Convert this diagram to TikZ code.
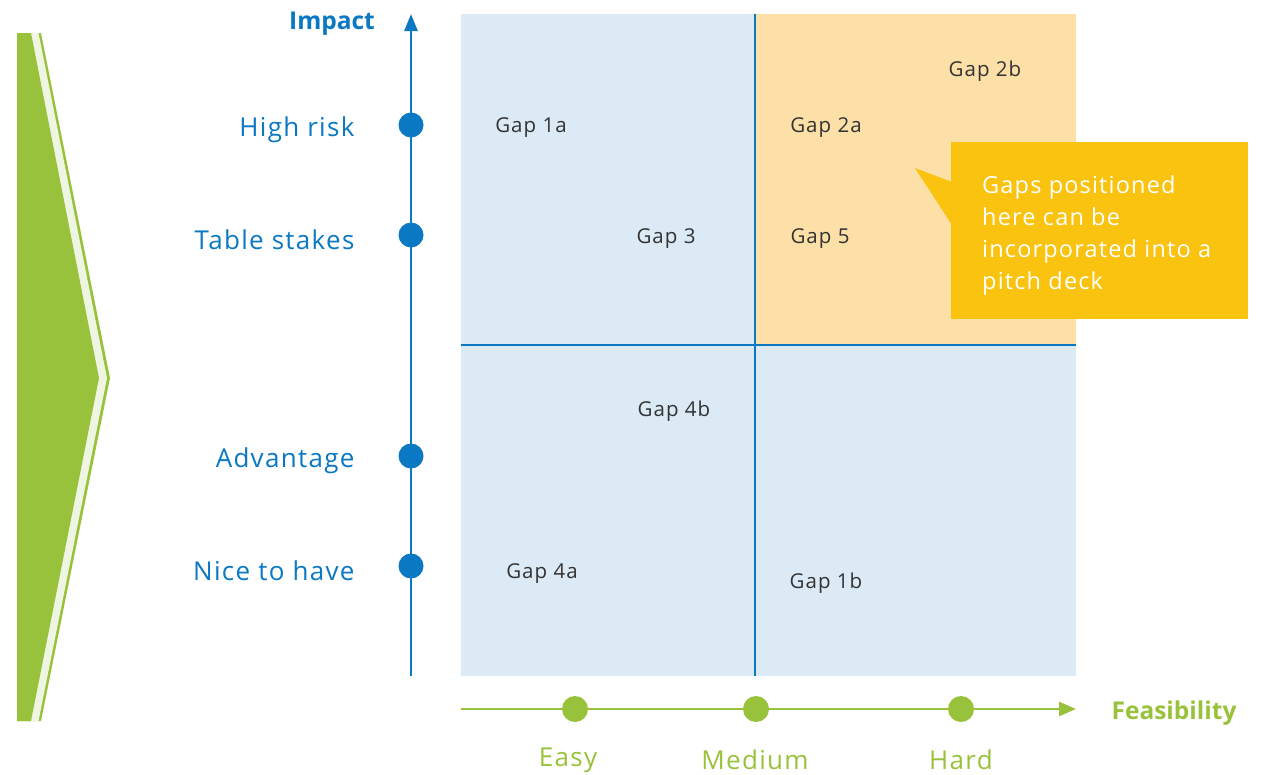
\documentclass[tikz,border=0pt]{standalone}
\usepackage{fontspec}
\setmainfont{Open Sans}
\newfontfamily\tracked{Open Sans}[LetterSpace=5]
\usetikzlibrary{arrows.meta}
\definecolor{leaf}{HTML}{99C23C}
\definecolor{leafpale}{HTML}{EEF5E3}
\definecolor{ocean}{HTML}{0A78C2}
\definecolor{skypale}{HTML}{DBEAF5}
\definecolor{peach}{HTML}{FDDFA8}
\definecolor{amber}{HTML}{F9C30F}
\definecolor{ink}{HTML}{333333}
\tikzset{
  x=1pt, y=-1pt,
  impactdot/.style={circle, fill=ocean, inner sep=0pt, minimum size=25pt},
  feasdot/.style={circle, fill=leaf, inner sep=0pt, minimum size=26pt},
  impactlabel/.style={anchor=east, text=ocean, font=\tracked\fontsize{26}{30}\selectfont},
  feaslabel/.style={text=leaf, font=\tracked\fontsize{26}{30}\selectfont},
  gaplabel/.style={text=ink, font=\tracked\fontsize{20.5}{24}\selectfont},
  axistitle/.style={font=\bfseries\fontsize{24.5}{28}\selectfont},
}
\begin{document}
\begin{tikzpicture}
\useasboundingbox (0,0) rectangle (1264,774);

% chevron with pale inner stripe
\fill[leaf] (17,33) -- (41,33) -- (110,378) -- (41,721) -- (17,721) -- cycle;
\fill[leafpale] (17,33) -- (38.5,33) -- (107,378) -- (38.5,721) -- (17,721) -- cycle;
\fill[leaf] (17,33) -- (31,33) -- (99,378) -- (31,721) -- (17,721) -- cycle;

% quadrant backgrounds
\fill[skypale] (461,14) rectangle (1076,676);
\fill[peach] (755,14) rectangle (1076,345);
\draw[ocean, line width=2pt] (755,14) -- (755,676);
\draw[ocean, line width=2pt] (461,345) -- (1076,345);

% impact axis
\coordinate (ibot) at (411,676);
\coordinate (itop) at (411,14);
\draw[ocean, line width=2.6pt, -{Triangle[length=17pt,width=13pt]}] (ibot) -- (itop);
\node[axistitle, text=ocean] (impact) at (332,24) {Impact};

\node[impactdot] (d1) at (411,125) {};
\node[impactdot] (d2) at (411,235) {};
\node[impactdot] (d3) at (411,456) {};
\node[impactdot] (d4) at (411,566) {};
\node[impactlabel] (l1) at (358,130) {High risk};
\node[impactlabel] (l2) at (358,240) {Table stakes};
\node[impactlabel] (l3) at (358,461) {Advantage};
\node[impactlabel] (l4) at (358,571) {Nice to have};

% feasibility axis
\coordinate (fleft) at (461,709);
\coordinate (fright) at (1076,709);
\draw[leaf, line width=2.6pt, -{Triangle[length=17pt,width=14pt]}] (fleft) -- (fright);
\node[axistitle, text=leaf] (feas) at (1174,713) {Feasibility};

\node[feasdot] (e1) at (575,709) {};
\node[feasdot] (e2) at (756,709) {};
\node[feasdot] (e3) at (961,709) {};
\node[feaslabel] (f1) at (568,760) {Easy};
\node[feaslabel] (f2) at (755,760) {Medium};
\node[feaslabel] (f3) at (961,760) {Hard};

% gaps
\node[gaplabel] (g1a) at (531,128) {Gap 1a};
\node[gaplabel] (g2a) at (826,128) {Gap 2a};
\node[gaplabel] (g2b) at (985,71) {Gap 2b};
\node[gaplabel] (g3) at (666,239) {Gap 3};
\node[gaplabel] (g5) at (820,239) {Gap 5};
\node[gaplabel] (g4b) at (674,411) {Gap 4b};
\node[gaplabel] (g4a) at (542,574) {Gap 4a};
\node[gaplabel] (g1b) at (826,583) {Gap 1b};

% callout
\fill[amber] (915,168) -- (952,182) -- (952,225) -- cycle;
\fill[amber] (951,142) rectangle (1248,319);
\node[anchor=north west, text=white, align=left, inner sep=0pt,
      font=\tracked\fontsize{23.5}{32}\selectfont] (note) at (982,175)
  {Gaps positioned\\here can be\\incorporated into a\\pitch deck};
\end{tikzpicture}
\end{document}
